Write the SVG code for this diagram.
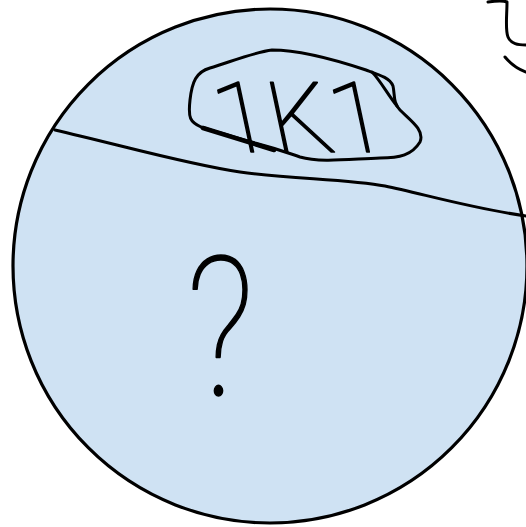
<svg xmlns="http://www.w3.org/2000/svg" width="526" height="527" viewBox="0 0 526 527">
<style>
.ln{fill:none;stroke:#000;stroke-width:3;stroke-linecap:round;stroke-linejoin:round}
.hw{font-family:Roboto,"Liberation Sans",sans-serif;font-weight:100;fill:#000;stroke:#000;stroke-width:1.6;stroke-linejoin:round}
</style>
<rect width="526" height="527" fill="#fff"/>
<g id="circle">
<circle cx="270" cy="266" r="257" fill="#cfe2f3" stroke="#000" stroke-width="3.2"/>
</g>
<g id="divider">
<path class="ln" d="M55,130 C120,145 190,165 240,172 C290,179 350,179 385,186 C420,193 470,208 526,216"/>
</g>
<g id="blob">
<path class="ln" d="M272,50 C295,50 330,58 366,70 C380,75 390,78 393,86 C395,95 393,103 400,110 C410,120 425,130 420,142 C412,155 400,158 380,158 C350,159 320,163 300,157 C285,152 278,149 255,143 C235,137 215,132 201,127 C190,122 188,118 190,100 C192,82 196,72 210,68 C230,62 255,52 272,50 Z"/>
<path class="ln" d="M372,72 C380,80 388,95 397,106"/>
<path class="ln" style="stroke-width:4.5" d="M203,128 L274,150"/>
<text class="hw" font-size="98" transform="translate(222,152) skewX(12)">1K1</text>
</g>
<g id="question">
<text class="hw" font-size="195" transform="translate(186,395) scale(0.8,1)">?</text>
</g>
<g id="corner">
<path class="ln" d="M488,2 C495,1 502,0 507,2 C507,15 505,30 508,37 C511,44 518,45 526,45"/>
<path class="ln" d="M505,57 C510,63 515,68 526,72"/>
</g>
</svg>
